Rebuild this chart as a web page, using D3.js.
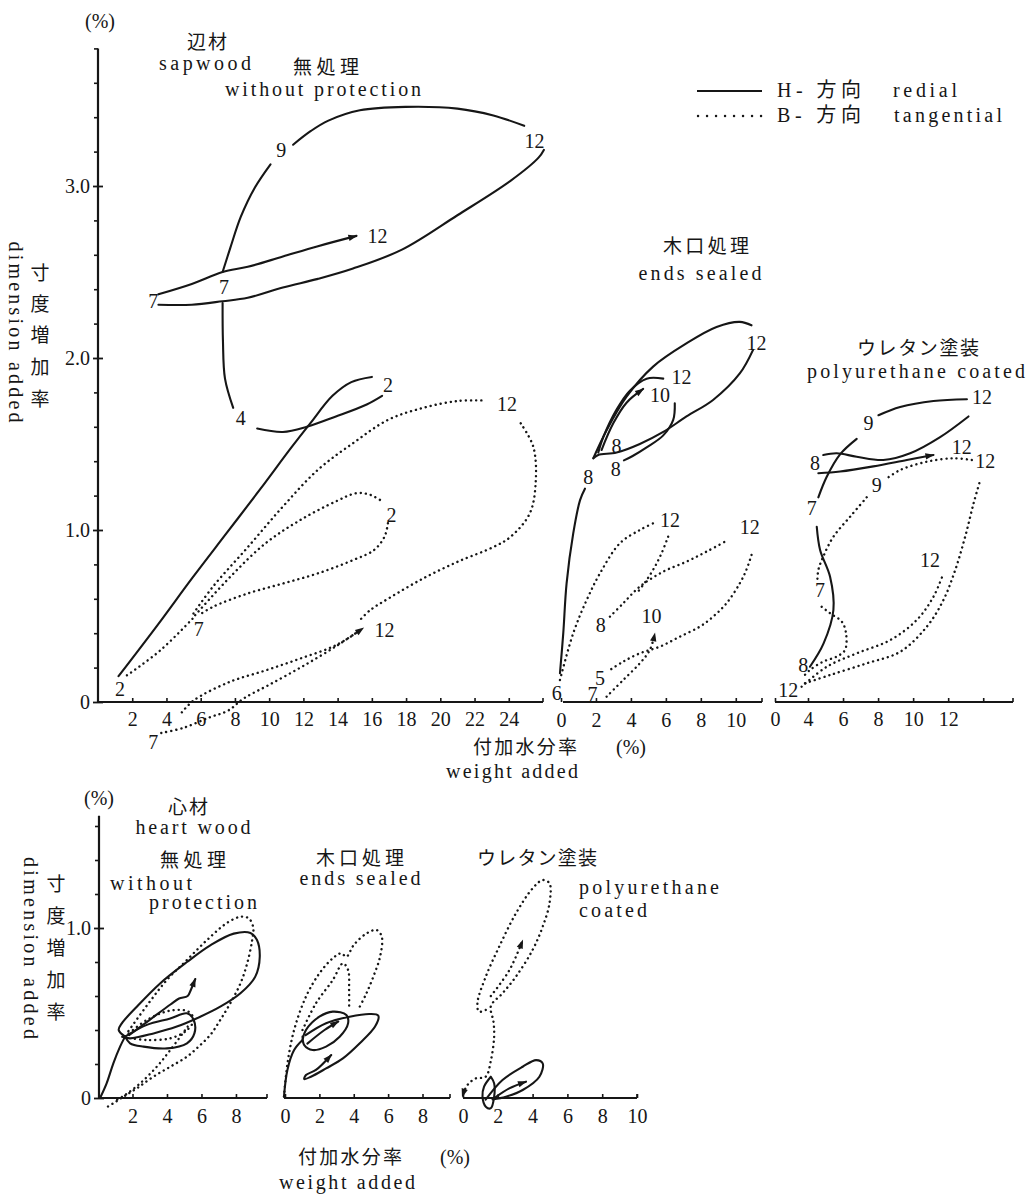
<!DOCTYPE html>
<html>
<head>
<meta charset="utf-8">
<script src="https://cdn.jsdelivr.net/npm/d3@7"></script>
<style>
  body { margin: 0; background: #fff; }
  svg text { fill: #161616; }
  .num { font-family: 'Liberation Serif', 'Times New Roman', serif; font-size: 20px; }
  .en  { font-family: 'Liberation Serif', 'DejaVu Serif', serif; font-size: 20px; }
  .jp  { font-family: 'Noto Sans CJK JP', 'DejaVu Serif', sans-serif; font-size: 19px; }
  .mix { font-family: 'Liberation Serif', 'Noto Sans CJK JP', serif; font-size: 20px; }
</style>
</head>
<body>
<svg id="chart" width="1031" height="1196"></svg>
<script>
// Swelling loops of wood specimens: weight added (%) vs dimension added (%).
// Each series is a list of [weight added, dimension added] points.

// ---------- sapwood, without protection ----------
const sapNoneRadial = [
  [[1.2,0.15],[3.5,0.45],[5.5,0.72],[7.5,0.98],[9.5,1.24],[11.3,1.48],[12.4,1.62],[13.7,1.78],[14.8,1.86],[16.0,1.89]],
  [[7.28,2.32],[7.3,2.1],[7.42,1.88],[7.9,1.71]],
  [[9.3,1.59],[10.8,1.57],[12.2,1.60],[13.9,1.66],[15.7,1.73],[16.6,1.78]],
  [[3.53,2.31],[5.48,2.31],[7.28,2.33],[8.75,2.35],[10.8,2.41],[12.85,2.46],[14.9,2.52],[17.76,2.63],[21.0,2.83],[24.1,3.03],[25.74,3.165],[26.05,3.21]],
  [[24.9,3.35],[23.1,3.41],[21.0,3.45],[17.96,3.46],[15.3,3.44],[13.46,3.38],[12.44,3.32],[11.4,3.24]],
  [[10.08,3.126],[9.16,2.99],[8.34,2.82],[7.73,2.64],[7.28,2.50]]
];
const sapNoneRadialArrow = [[3.53,2.37],[5.48,2.43],[7.28,2.50],[8.75,2.53],[10.8,2.59],[12.85,2.65],[15.1,2.71]];
const sapNoneTangential = [
  [[1.69,0.155],[3.64,0.30],[5.58,0.49]],
  [[5.58,0.515],[6.71,0.67],[8.75,0.90],[10.8,1.136],[12.85,1.35],[14.9,1.505],[16.94,1.64],[18.99,1.71],[21.03,1.75],[22.67,1.753]],
  [[24.7,1.62],[25.43,1.485],[25.58,1.29],[25.23,1.097],[24.1,0.96],[23.08,0.90],[21.03,0.816],[18.99,0.718],[16.94,0.60],[15.9,0.534],[15.3,0.476]],
  [[5.68,0.505],[7.73,0.728],[9.78,0.922],[11.82,1.058],[13.87,1.165],[15.1,1.214],[15.92,1.204],[16.63,1.165]],
  [[16.94,1.039],[16.74,0.961],[16.12,0.883],[14.9,0.825],[12.85,0.748],[10.8,0.689],[8.75,0.631],[6.71,0.553],[5.89,0.505]],
  [[4.9,-0.06],[5.6,0.01],[7.7,0.117],[9.8,0.184],[11.8,0.252],[13.9,0.33],[15.2,0.41]]
];
const sapNoneTangentialArrow = [[3.7,-0.18],[5.0,-0.15],[6.5,-0.09],[7.6,-0.05],[8.5,0.02],[10,0.1],[12,0.21],[14,0.33],[15.5,0.43]];
const sapNoneMonths = [
  ["9",10.7,3.21],["12",25.5,3.26],["12",16.33,2.71],["7",3.23,2.33],["7",7.36,2.41],
  ["2",16.94,1.845],["4",8.34,1.65],["12",23.9,1.73],["2",17.15,1.087],["7",5.89,0.427],
  ["12",16.74,0.417],["2",1.28,0.078],["7",3.23,-0.233]
];

// ---------- sapwood, ends sealed ----------
const sapEndsRadial = [
  [[-0.06,0.167],[0.13,0.40],[0.32,0.69],[0.70,0.98],[1.09,1.174],[1.37,1.24]],
  [[1.85,1.417],[2.61,1.58],[3.75,1.775],[5.27,1.95],[7.18,2.085],[8.9,2.18],[10.23,2.21],[10.9,2.19]],
  [[10.99,2.047],[10.23,1.91],[8.7,1.756],[7.18,1.66],[5.85,1.57],[4.51,1.50],[3.18,1.45],[2.13,1.436],[1.85,1.417]],
  [[5.85,1.88],[4.9,1.88],[3.94,1.81],[3.18,1.70],[2.42,1.54],[2.13,1.45]],
  [[6.51,1.737],[6.42,1.64],[5.85,1.55],[4.9,1.48],[4.1,1.43],[3.6,1.405]]
];
const sapEndsRadialArrow = [[2.32,1.465],[2.99,1.62],[3.75,1.74],[4.70,1.82]];
const sapEndsTangential = [
  [[-0.06,0.128],[0.70,0.40],[1.47,0.593],[2.23,0.748],[3.37,0.923],[4.51,1.0],[5.27,1.039]],
  [[6.13,0.961],[5.75,0.864],[5.37,0.787],[4.9,0.709],[4.33,0.632]],
  [[2.8,0.496],[3.56,0.574],[4.51,0.671],[5.85,0.758],[7.18,0.816],[8.32,0.874],[9.56,0.942]],
  [[10.9,0.855],[10.6,0.767],[10.23,0.69],[9.47,0.574],[8.7,0.496],[7.94,0.438],[6.8,0.38],[5.66,0.322],[4.51,0.283],[3.56,0.235],[2.8,0.186]]
];
const sapEndsTangentialArrow = [[2.61,0.031],[3.56,0.128],[4.51,0.225],[5.08,0.302],[5.37,0.399]];
const sapEndsMonths = [
  ["12",11.18,2.085],["12",6.9,1.89],["10",5.66,1.785],["8",3.18,1.49],["8",3.13,1.355],["8",1.56,1.31],
  ["12",6.23,1.058],["12",10.8,1.02],["8",2.27,0.448],["10",5.18,0.50],["5",2.23,0.14],["6",-0.25,0.05],["7",1.8,0.045]
];

// ---------- sapwood, polyurethane coated ----------
const sapUrethRadial = [
  [[4.11,0.205],[4.89,0.341],[5.45,0.535],[5.26,0.728],[4.69,0.884],[4.5,1.019]],
  [[4.59,1.19],[5.07,1.31],[5.83,1.44],[6.78,1.53]],
  [[8.02,1.667],[9.26,1.715],[11.16,1.75],[13.07,1.76]],
  [[4.87,1.436],[5.64,1.446],[6.78,1.426],[8.3,1.407],[9.83,1.446],[11.54,1.54],[13.16,1.66]]
];
const sapUrethRadialArrow = [[4.59,1.33],[5.83,1.34],[7.73,1.37],[9.64,1.407],[11.16,1.436]];
const sapUrethTangential = [
  [[3.64,0.109],[5.26,0.157],[7.35,0.225],[9.26,0.292],[10.78,0.438],[11.73,0.593],[12.4,0.767],[12.97,0.961],[13.45,1.155],[13.83,1.29]],
  [[3.23,0.089],[5.07,0.205],[6.78,0.283],[8.69,0.36],[10.21,0.477],[11.16,0.612],[11.73,0.748]],
  [[13.35,1.407],[12.3,1.417],[10.78,1.397],[9.26,1.349],[8.5,1.30]],
  [[7.35,1.19],[6.4,1.077],[5.45,0.961],[4.87,0.845],[4.59,0.767],[4.53,0.69]],
  [[4.78,0.554],[5.26,0.516],[5.93,0.467],[6.17,0.40],[6.11,0.302],[5.64,0.264],[4.87,0.235],[4.11,0.186],[3.43,0.147]]
];
const sapUrethMonths = [
  ["12",13.93,1.775],["9",7.45,1.62],["12",12.78,1.48],["12",14.11,1.40],["8",4.4,1.39],["9",7.93,1.26],
  ["7",4.21,1.126],["12",10.97,0.826],["7",4.69,0.651],["8",3.43,0.215],["12",1.62,0.07]
];

// ---------- heartwood, without protection ----------
const heartNoneRadial = [
  [[0.12,0],[0.50,0.086],[0.89,0.204],[1.28,0.302],[1.57,0.361]],
  [[1.57,0.361],[1.2,0.40],[1.38,0.439],[2.25,0.537],[3.6,0.674],[5.16,0.80],[6.51,0.898],[7.87,0.967],[8.84,0.971],[9.22,0.929],[9.38,0.831],[9.12,0.714],[8.26,0.616],[7.09,0.537],[5.93,0.478],[4.57,0.42],[3.22,0.38],[1.86,0.351],[1.4,0.36]],
  [[1.57,0.361],[2.83,0.43],[4.19,0.468],[5.16,0.498],[5.55,0.459],[5.59,0.38],[5.16,0.322],[4.0,0.292],[2.64,0.302],[1.86,0.322],[1.57,0.361]]
];
const heartNoneRadialArrow = [[1.8,0.37],[3.0,0.46],[4.2,0.55],[4.7,0.585],[5.2,0.60],[5.4,0.64],[5.64,0.70]];
const heartNoneTangential = [
  [[0.58,-0.05],[0.89,-0.031],[1.48,0.008],[2.25,0.057],[3.22,0.126],[4.19,0.184],[5.16,0.243],[5.83,0.302],[6.51,0.371],[7.09,0.459],[7.67,0.557],[8.26,0.674],[8.65,0.792],[8.94,0.929],[9.0,1.004],[8.74,1.057],[8.26,1.066],[7.48,1.03],[6.32,0.929],[5.16,0.812],[3.99,0.694],[2.93,0.557],[1.67,0.38]],
  [[1.57,0.361],[2.83,0.459],[4.19,0.514],[5.25,0.508],[5.55,0.459],[5.12,0.396],[4.19,0.351],[2.83,0.341],[1.96,0.351]],
  [[5.2,0.42],[4.19,0.282],[3.41,0.184],[2.44,0.086],[1.57,0.018],[1.1,-0.01]]
];

// ---------- heartwood, ends sealed ----------
const heartEndsRadial = [
  [[-0.06,0.008],[0.14,0.165],[0.53,0.282],[1.02,0.341]],
  [[1.02,0.341],[1.22,0.40],[2.0,0.478],[2.78,0.508],[3.57,0.488],[3.67,0.439],[3.18,0.36],[2.39,0.302],[1.61,0.282],[1.12,0.311],[1.02,0.361]]
];
const heartEndsRadialArrow = [[1.2,0.37],[2.39,0.44],[3.76,0.478],[4.94,0.494],[5.43,0.484],[5.24,0.42],[4.35,0.322],[3.37,0.233],[2.39,0.174],[1.51,0.125],[1.12,0.111],[1.22,0.135],[1.8,0.165],[2.69,0.253]];
const heartEndsRadialInner = [[1.3,0.32],[2.3,0.40],[3.1,0.45]];
const heartEndsTangential = [
  [[-0.06,0.008],[0.14,0.2],[0.53,0.40],[1.22,0.596],[2.0,0.733],[2.78,0.822],[3.27,0.851],[3.57,0.831],[4.0,0.90],[4.74,0.968],[5.33,0.988],[5.63,0.949],[5.53,0.831],[5.14,0.714],[4.74,0.616],[4.35,0.537]],
  [[1.02,0.40],[1.8,0.557],[2.78,0.694],[3.37,0.792],[3.67,0.753],[3.73,0.635],[3.73,0.518]]
];

// ---------- heartwood, polyurethane coated ----------
const heartUrethRadial = [
  [[1.6,0.125],[1.21,0.067],[1.12,0.008],[1.31,-0.051],[1.6,-0.06],[1.79,0.008],[1.79,0.086],[1.6,0.125]],
  [[1.3,-0.01],[2.27,0.106],[3.43,0.184],[4.2,0.223],[4.58,0.204],[4.39,0.125],[3.43,0.047],[2.47,0.008],[1.7,-0.008]]
];
const heartUrethRadialArrow = [[1.8,0.0],[2.66,0.057],[3.62,0.096]];
const heartUrethTangentialArrow = [
  [[1.31,0.518],[0.92,0.508],[0.83,0.56],[1.31,0.714],[2.08,0.89],[3.04,1.086],[4.0,1.233],[4.58,1.282],[4.97,1.263],[4.97,1.145],[4.58,1.008],[4.0,0.871],[3.04,0.714],[2.27,0.616],[1.6,0.54],[1.75,0.45],[1.79,0.361],[1.6,0.22],[1.3,0.125],[0.73,0.115],[0.25,0.076],[-0.04,0.008]],
  [[1.6,0.60],[2.66,0.751],[3.43,0.927]]
];

// ---------- axis ticks ----------
const sapNoneXTicks = [2,4,6,8,10,12,14,16,18,20,22,24];
const sapEndsXTicks = [0,2,4,6,8,10];
const sapUrethXTicks = [0,4,6,8,10,12,14];
const heartNoneXTicks = [2,4,6,8];
const heartEndsXTicks = [0,2,4,6,8];
const heartUrethXTicks = [0,2,4,6,8,10];
const topYMajor = [0,1,2,3];
const botYMajor = [0,1];
const yTickText = d => d === 0 ? "0" : d.toFixed(1);

// ---------- scales ----------
const yTop = d3.scaleLinear().domain([0, 3.8]).range([702, 48.4]);
const yBot = d3.scaleLinear().domain([0, 1.66]).range([1098, 815.8]);
const xSapNone = d3.scaleLinear().domain([0, 26]).range([98, 543]);
const xSapEnds = d3.scaleLinear().domain([0, 11.5]).range([561, 762]);
const xSapUreth = d3.scaleLinear().domain([0, 4, 15.7]).range([775, 808, 1013]);
const xHeartNone = d3.scaleLinear().domain([0, 9.8]).range([98, 267]);
const xHeartEnds = d3.scaleLinear().domain([0, 9.6]).range([285, 450]);
const xHeartUreth = d3.scaleLinear().domain([0, 10]).range([463, 637]);

const svg = d3.select("#chart");
const INK = "#161616";

// arrowhead
svg.append("defs").append("marker")
  .attr("id", "head").attr("viewBox", "0 -4 9 8")
  .attr("refX", 8).attr("refY", 0)
  .attr("markerUnits", "userSpaceOnUse")
  .attr("markerWidth", 10).attr("markerHeight", 8)
  .attr("orient", "auto")
  .append("path").attr("d", "M0,-3.2L9,0L0,3.2Z").attr("fill", INK);

const plot = svg.append("g");

function drawCurves(xs, ys, list, dotted, arrow) {
  const line = d3.line().x(d => xs(d[0])).y(d => ys(d[1])).curve(d3.curveCatmullRom.alpha(0.5));
  list.forEach(pts => {
    const p = plot.append("path").attr("d", line(pts))
      .attr("fill", "none").attr("stroke", INK)
      .attr("stroke-linejoin", "round")
      .attr("stroke-linecap", "round");
    if (dotted) p.attr("stroke-width", 2.4).attr("stroke-dasharray", "0.1 5");
    else p.attr("stroke-width", 2.1);
    if (arrow) p.attr("marker-end", "url(#head)");
  });
}

function monthLabels(xs, ys, list) {
  plot.selectAll(null).data(list).enter().append("text")
    .attr("class", "num").attr("text-anchor", "middle").attr("dy", "0.35em")
    .attr("x", d => xs(d[1])).attr("y", d => ys(d[2]))
    .text(d => d[0]);
}

function xAxis(xs, y, ticks, fmt, x0, x1, pad) {
  const g = svg.append("g").attr("transform", `translate(0,${y})`)
    .call(d3.axisBottom(xs).tickValues(ticks).tickFormat(fmt)
      .tickSizeInner(-4).tickSizeOuter(0).tickPadding(pad));
  g.select(".domain").remove();
  g.selectAll(".tick line").attr("stroke", INK).attr("stroke-width", 1.6);
  g.selectAll(".tick text").attr("class", "num").attr("font-size", null).attr("font-family", null);
  g.append("line").attr("x1", x0).attr("x2", x1).attr("stroke", INK).attr("stroke-width", 2.2);
  g.append("line").attr("x1", x1).attr("x2", x1).attr("y1", 0).attr("y2", -4).attr("stroke", INK).attr("stroke-width", 1.6);
}

function yAxis(ys, x, major, maxV) {
  const minor = d3.range(0, maxV + 1e-6, 0.2).filter(v => !major.some(m => Math.abs(m - v) < 1e-6));
  const gm = svg.append("g").attr("transform", `translate(${x},0)`)
    .call(d3.axisLeft(ys).tickValues(minor).tickFormat("").tickSizeInner(4).tickSizeOuter(0));
  gm.select(".domain").remove();
  gm.selectAll(".tick line").attr("stroke", INK).attr("stroke-width", 1.6);
  const g = svg.append("g").attr("transform", `translate(${x},0)`)
    .call(d3.axisLeft(ys).tickValues(major).tickFormat(yTickText).tickSizeInner(5).tickSizeOuter(0).tickPadding(3));
  g.select(".domain").remove();
  g.selectAll(".tick line").attr("stroke", INK).attr("stroke-width", 1.8).attr("x2", -5).attr("x1", 5);
  g.selectAll(".tick text").attr("class", "num").attr("font-size", null).attr("font-family", null);
  g.append("line").attr("y1", ys(0)).attr("y2", ys(maxV)).attr("stroke", INK).attr("stroke-width", 2.2);
}

// ---------- axes ----------
yAxis(yTop, 98, topYMajor, 3.8);
xAxis(xSapNone, 702, sapNoneXTicks, d => d, 98, 543, 10);
xAxis(xSapEnds, 702, sapEndsXTicks, d => d, 563, 762, 11);
xAxis(xSapUreth, 702, sapUrethXTicks, d => d === 14 ? "" : d, 775, 1013, 10);

yAxis(yBot, 99, botYMajor, 1.66);
xAxis(xHeartNone, 1098, heartNoneXTicks, d => d, 99, 267, 11);
xAxis(xHeartEnds, 1098, heartEndsXTicks, d => d, 284, 450, 11);
xAxis(xHeartUreth, 1098, heartUrethXTicks, d => d, 463, 637, 11);

// ---------- curves ----------
drawCurves(xSapNone, yTop, sapNoneRadial, false, false);
drawCurves(xSapNone, yTop, [sapNoneRadialArrow], false, true);
drawCurves(xSapNone, yTop, sapNoneTangential, true, false);
drawCurves(xSapNone, yTop, [sapNoneTangentialArrow], true, true);
monthLabels(xSapNone, yTop, sapNoneMonths);

drawCurves(xSapEnds, yTop, sapEndsRadial, false, false);
drawCurves(xSapEnds, yTop, [sapEndsRadialArrow], false, true);
drawCurves(xSapEnds, yTop, sapEndsTangential, true, false);
drawCurves(xSapEnds, yTop, [sapEndsTangentialArrow], true, true);
monthLabels(xSapEnds, yTop, sapEndsMonths);

drawCurves(xSapUreth, yTop, sapUrethRadial, false, false);
drawCurves(xSapUreth, yTop, [sapUrethRadialArrow], false, true);
drawCurves(xSapUreth, yTop, sapUrethTangential, true, false);
monthLabels(xSapUreth, yTop, sapUrethMonths);

drawCurves(xHeartNone, yBot, heartNoneRadial, false, false);
drawCurves(xHeartNone, yBot, [heartNoneRadialArrow], false, true);
drawCurves(xHeartNone, yBot, heartNoneTangential, true, false);

drawCurves(xHeartEnds, yBot, heartEndsRadial, false, false);
drawCurves(xHeartEnds, yBot, [heartEndsRadialArrow, heartEndsRadialInner], false, true);
drawCurves(xHeartEnds, yBot, heartEndsTangential, true, false);

drawCurves(xHeartUreth, yBot, heartUrethRadial, false, false);
drawCurves(xHeartUreth, yBot, [heartUrethRadialArrow], false, true);
drawCurves(xHeartUreth, yBot, heartUrethTangentialArrow, true, true);

// ---------- text ----------
function txt(x, y, s, cls, len, anchor) {
  const t = svg.append("text").attr("class", cls).attr("x", x).attr("y", y)
    .attr("dy", "0.36em").attr("text-anchor", anchor || "middle").text(s);
  if (len) t.attr("textLength", len).attr("lengthAdjust", "spacing");
  return t;
}
function vertical(x, ys, chars) {
  chars.forEach((c, i) => txt(x, ys[i], c, "jp"));
}
function rotated(x, y, s, len) {
  svg.append("text").attr("class", "en").attr("text-anchor", "middle").attr("dy", "0.35em")
    .attr("transform", `translate(${x},${y}) rotate(90)`)
    .attr("textLength", len).attr("lengthAdjust", "spacing").text(s);
}

// upper figure: sapwood
txt(100, 21, "(%)", "num");
txt(207, 42, "辺材", "jp", 40);
txt(205, 63, "sapwood", "en", 92);
txt(326, 67, "無処理", "jp", 66);
txt(323, 89, "without protection", "en", 196);
txt(706, 246, "木口処理", "jp", 86);
txt(700, 273, "ends sealed", "en", 123);
txt(918, 348, "ウレタン塗装", "jp", 122);
txt(916, 371, "polyurethane coated", "en", 218);

vertical(40, [273, 304, 335, 367, 399], ["寸", "度", "増", "加", "率"]);
rotated(16, 332, "dimension added", 181);

txt(525, 747, "付加水分率", "jp", 104);
txt(631, 747, "(%)", "num");
txt(512, 771, "weight added", "en", 132);

// legend
svg.append("line").attr("x1", 697).attr("x2", 762).attr("y1", 91).attr("y2", 91)
  .attr("stroke", INK).attr("stroke-width", 2.2);
svg.append("line").attr("x1", 698).attr("x2", 762).attr("y1", 116).attr("y2", 116)
  .attr("stroke", INK).attr("stroke-width", 2.4).attr("stroke-linecap", "round").attr("stroke-dasharray", "0.1 8.9");
txt(777, 90, "H- 方向", "mix", 84, "start");
txt(893, 90, "redial", "en", 64, "start");
txt(777, 115, "B- 方向", "mix", 84, "start");
txt(894, 115, "tangential", "en", 108, "start");

// lower figure: heartwood
txt(99, 798, "(%)", "num");
txt(188, 807, "心材", "jp", 40);
txt(193, 827, "heart wood", "en", 115);
txt(193, 860, "無処理", "jp", 66);
txt(110, 883, "without", "en", 82, "start");
txt(149, 902, "protection", "en", 108, "start");
txt(360, 858, "木口処理", "jp", 88);
txt(360, 878, "ends sealed", "en", 121);
txt(537, 858, "ウレタン塗装", "jp", 120);
txt(579, 887, "polyurethane", "en", 140, "start");
txt(579, 910, "coated", "en", 68, "start");

vertical(56, [884, 916, 948, 980, 1012], ["寸", "度", "増", "加", "率"]);
rotated(31, 948, "dimension added", 182);

txt(350, 1157, "付加水分率", "jp", 104);
txt(455, 1157, "(%)", "num");
txt(347, 1182, "weight added", "en", 136);
</script>
</body>
</html>
